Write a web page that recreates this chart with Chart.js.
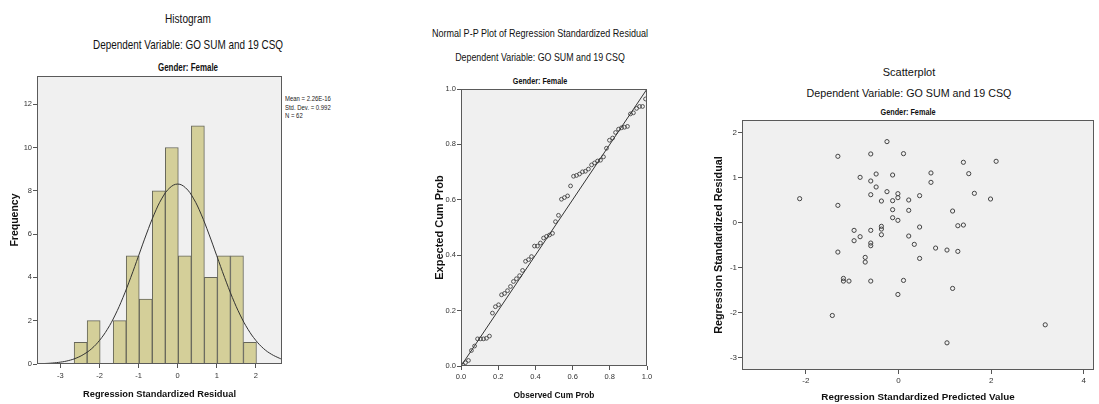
<!DOCTYPE html>
<html>
<head>
<meta charset="utf-8">
<script src="https://cdn.jsdelivr.net/npm/chart.js@4.4.1/dist/chart.umd.min.js"></script>
<style>
    html, body { margin: 0; padding: 0; background: #fff; }
    body { width: 1099px; height: 404px; position: relative; overflow: hidden; font-family: 'Liberation Sans', Arial, sans-serif; }
    canvas { position: absolute; top: 0; }
    .t { position: absolute; transform: translate(-50%, -50%); white-space: nowrap; color: #111; }
    .n82 { transform: translate(-50%, -50%) scaleX(0.82); }
    .n75 { transform: translate(-50%, -50%) scaleX(0.75); }
    .stats { position: absolute; left: 285px; top: 95px; font-size: 7px; line-height: 8.5px; color: #222;
             transform: scaleX(0.85); transform-origin: left top; white-space: nowrap; }
</style>
</head>
<body>

<!-- Histogram titles -->
<div class="t n82" style="left:188px; top:19px; font-size:12.3px;">Histogram</div>
<div class="t n82" style="left:188px; top:45px; font-size:12.1px;">Dependent Variable: GO SUM and 19 CSQ</div>
<div class="t n75" style="left:188px; top:67px; font-size:10.6px; font-weight:bold;">Gender: Female</div>
<div class="stats">Mean = 2.26E-16<br>Std. Dev. = 0.992<br>N = 62</div>

<!-- P-P titles -->
<div class="t n82" style="left:540px; top:33px; font-size:11px;">Normal P-P Plot of Regression Standardized Residual</div>
<div class="t n82" style="left:540px; top:57px; font-size:10.8px;">Dependent Variable: GO SUM and 19 CSQ</div>
<div class="t n75" style="left:540px; top:80px; font-size:9.6px; font-weight:bold;">Gender: Female</div>

<!-- Scatter titles -->
<div class="t" style="left:909px; top:72px; font-size:11px;">Scatterplot</div>
<div class="t" style="left:909px; top:93px; font-size:10.7px;">Dependent Variable: GO SUM and 19 CSQ</div>
<div class="t n82" style="left:908px; top:112px; font-size:8.9px; font-weight:bold;">Gender: Female</div>

<canvas id="histChart" width="370" height="404" style="left:0px;"></canvas>
<canvas id="ppChart" width="320" height="404" style="left:380px;"></canvas>
<canvas id="scatterChart" width="399" height="404" style="left:700px;"></canvas>

<script>
// ---- Histogram data ----
const binCenters = [-2.483, -2.15, -1.817, -1.483, -1.15, -0.817, -0.483, -0.15, 0.183, 0.517, 0.85, 1.183, 1.517, 1.85];
const binCounts = [1, 2, 0, 2, 5, 3, 8, 10, 5, 11, 4, 5, 5, 1];
const curveX = [-3.6, -3.4, -3.2, -3.0, -2.8, -2.6, -2.4, -2.2, -2.0, -1.8, -1.6, -1.4, -1.2, -1.0, -0.8, -0.6, -0.4, -0.2, 0,
    0.2, 0.4, 0.6, 0.8, 1.0, 1.2, 1.4, 1.6, 1.8, 2.0, 2.2, 2.4, 2.6, 2.67];
const curveY = [0.011, 0.023, 0.046, 0.086, 0.155, 0.27, 0.45, 0.71, 1.09, 1.60, 2.26, 3.07, 4.00, 5.00, 6.00, 6.92, 7.66, 8.14, 8.31,
    8.14, 7.66, 6.92, 6.00, 5.00, 4.00, 3.07, 2.26, 1.60, 1.09, 0.71, 0.45, 0.27, 0.22];
const histXTicks = [-3, -2, -1, 0, 1, 2];
const histYTicks = [0, 2, 4, 6, 8, 10, 12];

// ---- P-P plot data ----
const obsCum = [0.008, 0.024, 0.040, 0.056, 0.073, 0.089, 0.105, 0.121, 0.137, 0.153,
    0.169, 0.185, 0.202, 0.218, 0.234, 0.250, 0.266, 0.282, 0.298, 0.315,
    0.331, 0.347, 0.363, 0.379, 0.395, 0.411, 0.427, 0.444, 0.460, 0.476,
    0.492, 0.508, 0.524, 0.540, 0.556, 0.573, 0.589, 0.605, 0.621, 0.637,
    0.653, 0.669, 0.685, 0.702, 0.718, 0.734, 0.750, 0.766, 0.782, 0.798,
    0.815, 0.831, 0.847, 0.863, 0.879, 0.895, 0.911, 0.927, 0.944, 0.960,
    0.976, 0.992];
const expCum = [0.004, 0.012, 0.020, 0.056, 0.072, 0.098, 0.098, 0.098, 0.100, 0.108,
    0.191, 0.214, 0.221, 0.257, 0.262, 0.272, 0.287, 0.305, 0.315, 0.326,
    0.345, 0.378, 0.384, 0.395, 0.433, 0.433, 0.444, 0.462, 0.468, 0.473,
    0.479, 0.521, 0.544, 0.602, 0.608, 0.614, 0.650, 0.685, 0.688, 0.693,
    0.701, 0.703, 0.711, 0.726, 0.733, 0.740, 0.743, 0.755, 0.786, 0.815,
    0.823, 0.843, 0.855, 0.860, 0.862, 0.865, 0.910, 0.914, 0.930, 0.937,
    0.937, 0.964];
const refLineX = [0, 1];
const refLineY = [0, 1];
const ppTicks = [0, 0.2, 0.4, 0.6, 0.8, 1.0];

// ---- Scatterplot data ----
const predX = [-2.135, -1.31, -1.31, -1.31, -1.43, -1.19, -1.19, -1.07, -0.96, -0.96,
    -0.83, -0.83, -0.72, -0.72, -0.60, -0.60, -0.60, -0.60, -0.60, -0.60,
    -0.60, -0.484, -0.484, -0.37, -0.37, -0.37, -0.37, -0.25, -0.25, -0.128,
    -0.128, -0.128, -0.128, -0.014, -0.014, -0.014, -0.014, 0.107, 0.107, 0.22,
    0.22, 0.22, 0.34, 0.455, 0.455, 0.455, 0.70, 0.70, 0.80, 1.046,
    1.046, 1.167, 1.167, 1.28, 1.28, 1.40, 1.40, 1.516, 1.637, 1.986,
    2.107, 3.167];
const residY = [0.533, 1.474, 0.385, -0.652, -2.06, -1.237, -1.296, -1.296, -0.17, -0.40,
    1.007, -0.311, -0.77, -0.874, 1.526, 0.926, 0.622, -0.17, -0.452, -0.511,
    -1.296, 1.081, 0.793, 0.481, -0.081, -0.141, -0.267, 1.8, 0.689, 1.059,
    0.489, 0.289, 0.111, 0.644, 0.556, 0.052, -1.593, 1.533, -1.281, 0.504,
    0.274, -0.296, -0.481, 0.6, -0.096, -0.793, 1.104, 0.896, -0.563, -0.607,
    -2.667, 0.259, -1.459, -0.067, -0.637, 1.341, -0.052, 1.089, 0.652, 0.526,
    1.363, -2.267];
const scatterXTicks = [-2, 0, 2, 4];
const scatterYTicks = [-3, -2, -1, 0, 1, 2];

const FONT = "'Liberation Sans', Arial, sans-serif";

Chart.defaults.animation = false;
Chart.defaults.color = '#333';

// grey plot background + frame like SPSS output
const plotFrame = {
    id: 'plotFrame',
    beforeDraw(chart) {
        const a = chart.chartArea, ctx = chart.ctx;
        ctx.save();
        ctx.fillStyle = '#f0f0f0';
        ctx.fillRect(a.left, a.top, a.right - a.left, a.bottom - a.top);
        ctx.restore();
    },
    afterDraw(chart) {
        const a = chart.chartArea, ctx = chart.ctx;
        ctx.save();
        ctx.strokeStyle = '#5a5a5a';
        ctx.lineWidth = 1;
        ctx.strokeRect(a.left + 0.5, a.top + 0.5, a.right - a.left - 1, a.bottom - a.top - 1);
        ctx.restore();
    }
};

function toPoints(xs, ys) {
    return xs.map((x, i) => ({ x: x, y: ys[i] }));
}

// axis with fixed size, outward tick marks and explicit ticks
function makeAxis(opts) {
    return {
        type: 'linear',
        min: opts.min,
        max: opts.max,
        offset: false,
        grid: { drawOnChartArea: false, drawTicks: true, tickLength: 4, color: '#555', offset: false },
        border: { display: false },
        ticks: {
            padding: opts.tickPad,
            font: { family: FONT, size: opts.tickSize || 7.5 },
            color: '#333',
            maxRotation: 0,
            callback: opts.fmt || (v => v)
        },
        title: {
            display: true,
            text: opts.title,
            color: '#111',
            font: { family: FONT, size: opts.titleSize, weight: 'bold' },
            padding: opts.titlePad
        },
        afterBuildTicks: s => { s.ticks = opts.tickValues.map(v => ({ value: v })); },
        afterFit: s => {
            if (opts.width) s.width = opts.width;
            if (opts.height) s.height = opts.height;
        }
    };
}

function baseOptions(padding, xAxis, yAxis) {
    return {
        responsive: false,
        animation: false,
        layout: { padding: padding },
        plugins: { legend: { display: false }, tooltip: { enabled: false }, title: { display: false } },
        scales: { x: xAxis, y: yAxis }
    };
}

// Histogram
new Chart(document.getElementById('histChart'), {
    type: 'bar',
    data: {
        datasets: [{
            type: 'line',
            data: toPoints(curveX, curveY),
            borderColor: '#333',
            borderWidth: 1,
            pointRadius: 0,
            tension: 0.4,
            order: 0
        }, {
            type: 'bar',
            data: toPoints(binCenters, binCounts),
            backgroundColor: '#d4cf99',
            borderColor: '#66665a',
            borderWidth: 1,
            barPercentage: 1,
            categoryPercentage: 1,
            order: 1
        }]
    },
    options: baseOptions({ left: 0, top: 76, right: 88, bottom: 0 },
        makeAxis({ min: -3.6, max: 2.67, tickValues: histXTicks, tickPad: 3,
            title: 'Regression Standardized Residual', titleSize: 9.3,
            titlePad: { top: 0, bottom: 4 }, height: 40 }),
        makeAxis({ min: 0, max: 13.3, tickValues: histYTicks, tickPad: 1,
            title: 'Frequency', titleSize: 10.5,
            titlePad: { top: 9, bottom: 0 }, width: 37 })),
    plugins: [plotFrame]
});

// Normal P-P plot
new Chart(document.getElementById('ppChart'), {
    type: 'scatter',
    data: {
        datasets: [{
            type: 'line',
            data: toPoints(refLineX, refLineY),
            borderColor: '#333',
            borderWidth: 1,
            pointRadius: 0,
            order: 0
        }, {
            data: toPoints(obsCum, expCum),
            pointRadius: 1.9,
            pointBorderWidth: 0.9,
            borderColor: '#444',
            backgroundColor: 'rgba(0,0,0,0)',
            order: 1
        }]
    },
    options: baseOptions({ left: 0, top: 89, right: 53, bottom: 0 },
        makeAxis({ min: 0, max: 1, tickValues: ppTicks, tickPad: 2, fmt: v => v.toFixed(1),
            title: 'Observed Cum Prob', titleSize: 8.4,
            titlePad: { top: 0, bottom: 3 }, height: 38 }),
        makeAxis({ min: 0, max: 1, tickValues: ppTicks, tickPad: 1, fmt: v => v.toFixed(1),
            title: 'Expected Cum Prob', titleSize: 11,
            titlePad: { top: 53, bottom: 0 }, width: 81 })),
    plugins: [plotFrame]
});

// Residual scatterplot
new Chart(document.getElementById('scatterChart'), {
    type: 'scatter',
    data: {
        datasets: [{
            data: toPoints(predX, residY),
            pointRadius: 2.1,
            pointBorderWidth: 1,
            borderColor: '#444',
            backgroundColor: 'rgba(0,0,0,0)'
        }]
    },
    options: baseOptions({ left: 0, top: 120, right: 1, bottom: 0 },
        makeAxis({ min: -3.38, max: 4.22, tickValues: scatterXTicks, tickPad: 2, tickSize: 8,
            title: 'Regression Standardized Predicted Value', titleSize: 9.8,
            titlePad: { top: 0, bottom: 1 }, height: 34 }),
        makeAxis({ min: -3.27, max: 2.28, tickValues: scatterYTicks, tickPad: 1, tickSize: 8,
            title: 'Regression Standardized Residual', titleSize: 10.8,
            titlePad: { top: 13, bottom: 0 }, width: 42 })),
    plugins: [plotFrame]
});
</script>
</body>
</html>
